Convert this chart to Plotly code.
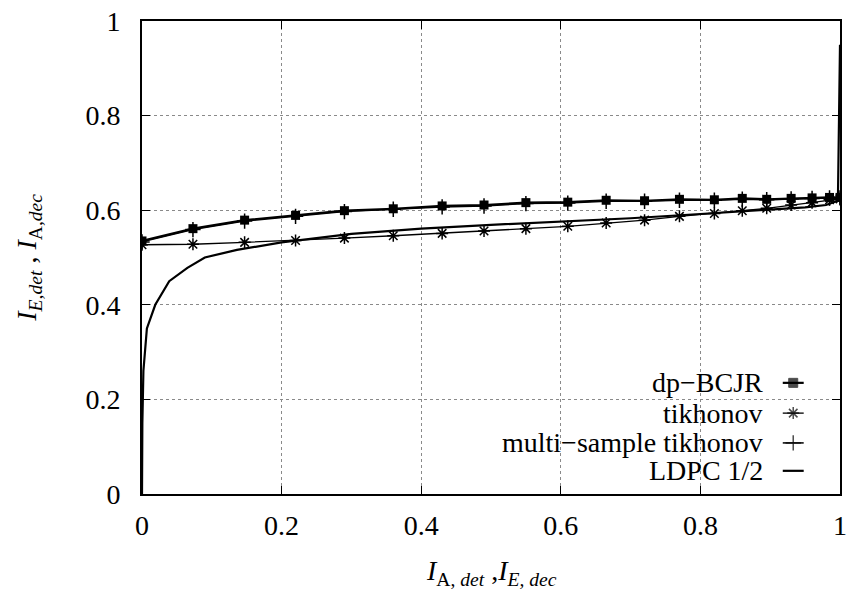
import plotly.graph_objects as go

# ---------------- data ----------------
x_pts = [0.0, 0.073, 0.147, 0.22, 0.29, 0.36, 0.43, 0.49, 0.55, 0.61, 0.665,
         0.72, 0.77, 0.82, 0.86, 0.895, 0.93, 0.96, 0.985, 1.0]
dp_bcjr = [0.535, 0.561, 0.579, 0.589, 0.599, 0.603, 0.609, 0.611, 0.616, 0.617, 0.621,
           0.620, 0.623, 0.622, 0.625, 0.623, 0.625, 0.626, 0.627, 0.627]
tikhonov = [0.527, 0.528, 0.532, 0.536, 0.541, 0.546, 0.551, 0.556, 0.561, 0.566, 0.573,
            0.579, 0.587, 0.593, 0.599, 0.604, 0.611, 0.616, 0.622, 0.624]
multi_tikhonov = [0.533, 0.559, 0.577, 0.587, 0.597, 0.602, 0.607, 0.609, 0.614, 0.615, 0.619,
                  0.619, 0.621, 0.621, 0.623, 0.622, 0.624, 0.625, 0.626, 0.626]

ldpc_x = [0.0, 0.0005, 0.002, 0.007, 0.019, 0.039, 0.065, 0.09, 0.136, 0.2, 0.3,
          0.4, 0.5, 0.6, 0.7, 0.8, 0.9, 0.95, 0.98, 0.997, 1.0]
ldpc_y = [0.0, 0.15, 0.26, 0.35, 0.40, 0.45, 0.478, 0.50, 0.516, 0.532, 0.550,
          0.561, 0.569, 0.576, 0.583, 0.592, 0.601, 0.606, 0.611, 0.62, 0.95]

legend_names = ["dp\u2212BCJR", "tikhonov", "multi\u2212sample tikhonov", "LDPC 1/2"]
tick_vals = [0, 0.2, 0.4, 0.6, 0.8, 1]
tick_text = ["0", "0.2", "0.4", "0.6", "0.8", "1"]
x_title = "<i>I</i><sub>A, <i>det</i></sub> ,<i>I</i><sub><i>E, dec</i></sub>"
y_title = "<i>I</i><sub><i>E,det</i></sub> , <i>I</i><sub>A,<i>dec</i></sub>"

FONT = "Liberation Serif, Times New Roman, serif"
FS = 28

fig = go.Figure()

fig.add_trace(go.Scatter(x=ldpc_x, y=ldpc_y, mode="lines",
                         line=dict(color="black", width=2.2), name=legend_names[3],
                         showlegend=False))
fig.add_trace(go.Scatter(x=x_pts, y=tikhonov, mode="lines+markers",
                         line=dict(color="black", width=1.3),
                         marker=dict(symbol="asterisk-open", size=10,
                                     line=dict(color="black", width=1.5)),
                         name=legend_names[1], showlegend=False))
fig.add_trace(go.Scatter(x=x_pts, y=multi_tikhonov, mode="lines+markers",
                         line=dict(color="black", width=1.5),
                         marker=dict(symbol="cross-thin-open", size=11,
                                     line=dict(color="black", width=1.5)),
                         name=legend_names[2], showlegend=False))
fig.add_trace(go.Scatter(x=x_pts, y=dp_bcjr, mode="lines+markers",
                         line=dict(color="black", width=2.2),
                         marker=dict(symbol="square", size=9, color="black"),
                         name=legend_names[0], showlegend=False))

# ---------- gnuplot-style key (text right, sample left) ----------
key_rows = [0.235, 0.171, 0.108, 0.049]
key_text_x = 0.893
key_x0, key_x1 = 0.918, 0.948
key_styles = [
    dict(symbol="square", size=9, color="black", line=dict(color="black", width=1)),
    dict(symbol="asterisk-open", size=10, color="black", line=dict(color="black", width=1.5)),
    dict(symbol="cross-thin-open", size=11, color="black", line=dict(color="black", width=1.5)),
    None,
]
key_widths = [2.2, 1.3, 1.5, 2.2]
for name, yk, st, lw in zip(legend_names, key_rows, key_styles, key_widths):
    fig.add_annotation(x=key_text_x, y=yk, xref="paper", yref="paper",
                       text=name, showarrow=False, xanchor="right", yanchor="middle",
                       font=dict(family=FONT, size=FS, color="black"))
    mid = (key_x0 + key_x1) / 2
    if st is None:
        fig.add_trace(go.Scatter(x=[key_x0, key_x1], y=[yk, yk], mode="lines",
                                 line=dict(color="black", width=lw),
                                 xaxis="x2", yaxis="y2", showlegend=False, hoverinfo="skip"))
    else:
        fig.add_trace(go.Scatter(x=[key_x0, mid, key_x1], y=[yk, yk, yk], mode="lines+markers",
                                 line=dict(color="black", width=lw),
                                 marker=dict(size=[0, st["size"], 0], symbol=st["symbol"],
                                             color=st["color"], line=st["line"]),
                                 xaxis="x2", yaxis="y2", showlegend=False, hoverinfo="skip"))

# axis titles
fig.add_annotation(x=0.5, y=-0.165, xref="paper", yref="paper", text=x_title,
                   showarrow=False, xanchor="center", yanchor="middle",
                   font=dict(family=FONT, size=FS, color="black"))
fig.add_annotation(x=-0.163, y=0.5, xref="paper", yref="paper", text=y_title,
                   showarrow=False, xanchor="center", yanchor="middle", textangle=-90,
                   font=dict(family=FONT, size=FS, color="black"))

# white box hiding the grid behind the key
fig.add_shape(type="rect", xref="paper", yref="paper", x0=0.351, x1=1.0, y0=0.0, y1=0.266,
              fillcolor="white", line=dict(width=0), layer="between")

axis_common = dict(
    range=[0, 1], tickvals=tick_vals, ticktext=tick_text,
    showgrid=True, gridcolor="#8a8a8a", griddash="dot", gridwidth=1,
    ticks="inside", ticklen=8, tickwidth=1.2, tickcolor="black",
    showline=True, linecolor="black", linewidth=1.8, mirror="all",
    zeroline=False, automargin=False,
    tickfont=dict(family=FONT, size=FS, color="black"),
)

fig.update_layout(
    width=853, height=594,
    margin=dict(l=142, r=13, t=21, b=100, autoexpand=False),
    plot_bgcolor="white", paper_bgcolor="white",
    showlegend=False,
    xaxis=dict(**axis_common, ticklabelstandoff=5),
    yaxis=dict(**axis_common, ticklabelstandoff=14),
    xaxis2=dict(range=[0, 1], overlaying="x", visible=False),
    yaxis2=dict(range=[0, 1], overlaying="y", visible=False),
)

fig.write_html("out.html", config={"displayModeBar": False},
               post_script="document.body.style.margin='0';document.body.style.padding='0';")
